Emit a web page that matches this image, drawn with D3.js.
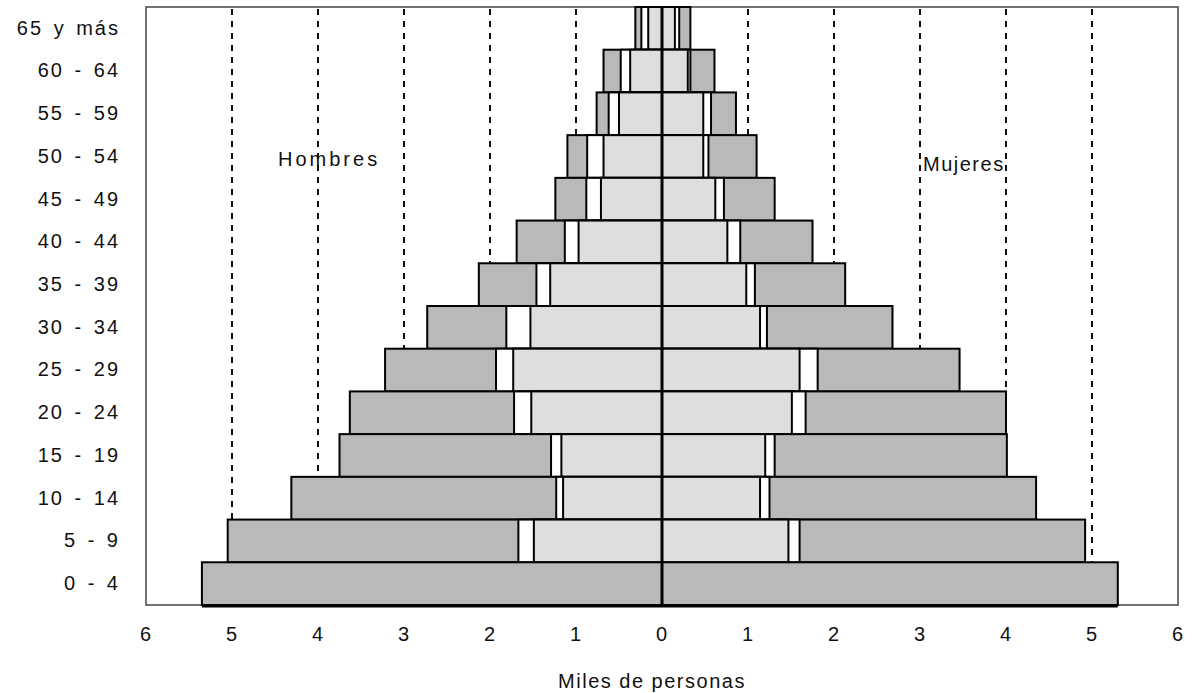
<!DOCTYPE html>
<html>
<head>
<meta charset="utf-8">
<script src="https://cdn.jsdelivr.net/npm/d3@7"></script>
<style>
  body { margin: 0; background: #fff; }
  text { font-family: "Liberation Sans", Arial, sans-serif; fill: #111; }
</style>
</head>
<body>
<div id="pyramid"></div>
<script>
// grupos de edad, de arriba hacia abajo
const ageGroups = ["65 y más", "60 - 64", "55 - 59", "50 - 54", "45 - 49", "40 - 44", "35 - 39",
    "30 - 34", "25 - 29", "20 - 24", "15 - 19", "10 - 14", "5 - 9", "0 - 4"];

// miles de personas
const menInner   = [0.16, 0.37, 0.50, 0.68, 0.71, 0.97, 1.30, 1.53, 1.73, 1.52, 1.17, 1.15, 1.49, 0];
const menMid     = [0.24, 0.48, 0.62, 0.87, 0.88, 1.13, 1.46, 1.81, 1.93, 1.72, 1.29, 1.23, 1.67, 0];
const menTotal   = [0.31, 0.68, 0.76, 1.10, 1.24, 1.69, 2.13, 2.73, 3.22, 3.63, 3.75, 4.31, 5.05, 5.35];
const womenInner = [0.15, 0.30, 0.48, 0.48, 0.62, 0.76, 0.98, 1.14, 1.60, 1.51, 1.20, 1.14, 1.47, 0];
const womenMid   = [0.20, 0.33, 0.57, 0.54, 0.72, 0.91, 1.08, 1.22, 1.81, 1.67, 1.31, 1.25, 1.60, 0];
const womenTotal = [0.33, 0.61, 0.86, 1.10, 1.31, 1.75, 2.13, 2.68, 3.46, 4.00, 4.01, 4.35, 4.92, 5.30];

const xTicks = [-6, -5, -4, -3, -2, -1, 0, 1, 2, 3, 4, 5, 6];
const gridValues = [-5, -4, -3, -2, -1, 1, 2, 3, 4, 5];

const width = 1195, height = 693;
const plot = { left: 146, right: 1178, top: 7, bottom: 605 };

const svg = d3.select("#pyramid")
    .append("svg")
    .attr("width", width)
    .attr("height", height);

const x = d3.scaleLinear()
    .domain([-6, 6])
    .range([plot.left, plot.right]);

const y = d3.scaleBand()
    .domain(ageGroups)
    .range([plot.top, plot.bottom])
    .padding(0);

// marco
svg.append("rect")
    .attr("x", plot.left)
    .attr("y", plot.top)
    .attr("width", plot.right - plot.left)
    .attr("height", plot.bottom - plot.top)
    .attr("fill", "none")
    .attr("stroke", "#444")
    .attr("stroke-width", 1.5);

// lineas discontinuas
svg.selectAll(".grid")
    .data(gridValues)
    .enter()
    .append("line")
    .attr("x1", d => x(d))
    .attr("x2", d => x(d))
    .attr("y1", plot.top + 2)
    .attr("y2", plot.bottom)
    .attr("stroke", "#111")
    .attr("stroke-width", 2)
    .attr("stroke-dasharray", "6,6");

// filas: tres capas por lado
const rows = ageGroups.map((g, i) => ({
    group: g,
    layers: [
        { side: -1, v: menTotal[i], fill: "#b9b9b9" },
        { side: 1, v: womenTotal[i], fill: "#b9b9b9" },
        { side: -1, v: menMid[i], fill: "#ffffff" },
        { side: 1, v: womenMid[i], fill: "#ffffff" },
        { side: -1, v: menInner[i], fill: "#dedede" },
        { side: 1, v: womenInner[i], fill: "#dedede" }
    ]
}));

const rowG = svg.selectAll(".row")
    .data(rows)
    .enter()
    .append("g")
    .attr("class", "row");

rowG.selectAll("rect")
    .data(d => d.layers.filter(l => l.v > 0).map(l => ({ ...l, group: d.group })))
    .enter()
    .append("rect")
    .attr("x", d => d.side < 0 ? x(-d.v) : x(0))
    .attr("y", d => y(d.group))
    .attr("width", d => x(d.v) - x(0))
    .attr("height", y.bandwidth())
    .attr("fill", d => d.fill)
    .attr("stroke", "#000")
    .attr("stroke-width", 2);

// linea gruesa bajo 0 - 4
const last = ageGroups.length - 1;
svg.append("line")
    .attr("x1", x(-menTotal[last]))
    .attr("x2", x(womenTotal[last]))
    .attr("y1", plot.bottom + 1)
    .attr("y2", plot.bottom + 1)
    .attr("stroke", "#000")
    .attr("stroke-width", 3);

// eje central
svg.append("line")
    .attr("x1", x(0))
    .attr("x2", x(0))
    .attr("y1", plot.top)
    .attr("y2", plot.bottom)
    .attr("stroke", "#000")
    .attr("stroke-width", 3);

const xAxis = svg.append("g")
    .attr("transform", `translate(0,${plot.bottom})`)
    .call(d3.axisBottom(x).tickValues(xTicks).tickSize(0).tickPadding(22).tickFormat(d => Math.abs(d)));
xAxis.select(".domain").remove();

const yAxis = svg.append("g")
    .attr("transform", `translate(${plot.left},0)`)
    .call(d3.axisLeft(y).tickSize(0).tickPadding(26));
yAxis.select(".domain").remove();

svg.selectAll(".tick text")
    .style("font-family", "'Liberation Sans', Arial, sans-serif")
    .style("font-size", "20px")
    .style("letter-spacing", "2px")
    .style("word-spacing", "3px")
    .style("fill", "#111");

svg.append("text")
    .attr("x", 652)
    .attr("y", 688)
    .attr("text-anchor", "middle")
    .style("font-size", "20px")
    .style("letter-spacing", "1.5px")
    .text("Miles de personas");

svg.append("text")
    .attr("x", 278)
    .attr("y", 166)
    .style("font-size", "20px")
    .style("letter-spacing", "3px")
    .text("Hombres");

svg.append("text")
    .attr("x", 923)
    .attr("y", 171)
    .style("font-size", "20px")
    .style("letter-spacing", "1.5px")
    .text("Mujeres");
</script>
</body>
</html>
